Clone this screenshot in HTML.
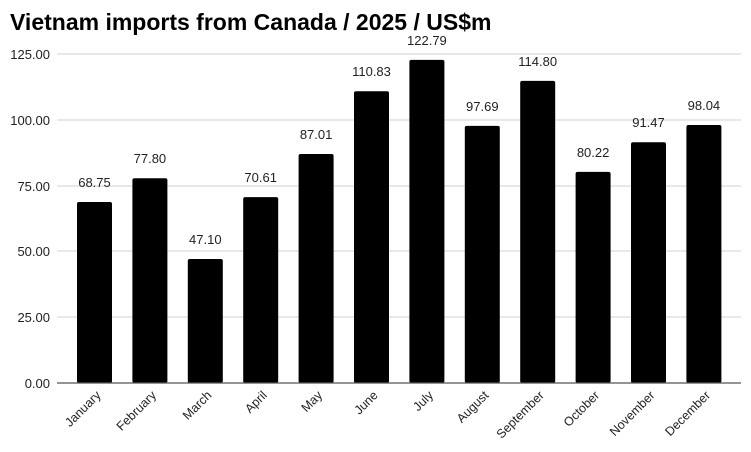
<!DOCTYPE html>
<html><head><meta charset="utf-8"><style>
html,body{margin:0;padding:0;background:#fff;}
svg{display:block;font-family:"Liberation Sans",Arial,sans-serif;}
</style></head><body>
<svg width="751" height="452" viewBox="0 0 751 452">
<text x="10" y="30" font-size="23" font-weight="bold" fill="#000">Vietnam imports from Canada / 2025 / US$m</text>
<g stroke="#d0d0d0" stroke-width="1">
<line x1="57" y1="54" x2="741" y2="54"/>
<line x1="57" y1="120" x2="741" y2="120"/>
<line x1="57" y1="186" x2="741" y2="186"/>
<line x1="57" y1="251" x2="741" y2="251"/>
<line x1="57" y1="317" x2="741" y2="317"/>
</g>
<g font-size="13" fill="#222" text-anchor="end">
<text x="50" y="59">125.00</text>
<text x="50" y="125">100.00</text>
<text x="50" y="191">75.00</text>
<text x="50" y="256">50.00</text>
<text x="50" y="322">25.00</text>
<text x="50" y="388">0.00</text>
</g>
<g fill="#000">
<rect x="77" y="202.05" width="35" height="180.95" rx="2"/>
<rect x="132.4" y="178.23" width="35" height="204.77" rx="2"/>
<rect x="187.8" y="259.03" width="35" height="123.97" rx="2"/>
<rect x="243.2" y="197.15" width="35" height="185.85" rx="2"/>
<rect x="298.6" y="153.99" width="35" height="229.01" rx="2"/>
<rect x="354" y="91.3" width="35" height="291.7" rx="2"/>
<rect x="409.4" y="59.82" width="35" height="323.18" rx="2"/>
<rect x="464.8" y="125.88" width="35" height="257.12" rx="2"/>
<rect x="520.2" y="80.85" width="35" height="302.15" rx="2"/>
<rect x="575.6" y="171.86" width="35" height="211.14" rx="2"/>
<rect x="631" y="142.25" width="35" height="240.75" rx="2"/>
<rect x="686.4" y="124.96" width="35" height="258.04" rx="2"/>
</g>
<g font-size="13" fill="#222" text-anchor="middle">
<text x="94.5" y="187">68.75</text>
<text x="149.9" y="163">77.80</text>
<text x="205.3" y="244">47.10</text>
<text x="260.7" y="182">70.61</text>
<text x="316.1" y="139">87.01</text>
<text x="371.5" y="76">110.83</text>
<text x="426.9" y="45">122.79</text>
<text x="482.3" y="111">97.69</text>
<text x="537.7" y="66">114.80</text>
<text x="593.1" y="157">80.22</text>
<text x="648.5" y="127">91.47</text>
<text x="703.9" y="110">98.04</text>
</g>
<g font-size="12.5" fill="#222" text-anchor="end">
<text transform="translate(101.5,396) rotate(-45)">January</text>
<text transform="translate(156.9,396) rotate(-45)">February</text>
<text transform="translate(212.3,396) rotate(-45)">March</text>
<text transform="translate(267.7,396) rotate(-45)">April</text>
<text transform="translate(323.1,396) rotate(-45)">May</text>
<text transform="translate(378.5,396) rotate(-45)">June</text>
<text transform="translate(433.9,396) rotate(-45)">July</text>
<text transform="translate(489.3,396) rotate(-45)">August</text>
<text transform="translate(544.7,396) rotate(-45)">September</text>
<text transform="translate(600.1,396) rotate(-45)">October</text>
<text transform="translate(655.5,396) rotate(-45)">November</text>
<text transform="translate(710.9,396) rotate(-45)">December</text>
</g>
<line x1="57" y1="383" x2="741" y2="383" stroke="#555" stroke-width="1.2"/>
</svg>
</body></html>
